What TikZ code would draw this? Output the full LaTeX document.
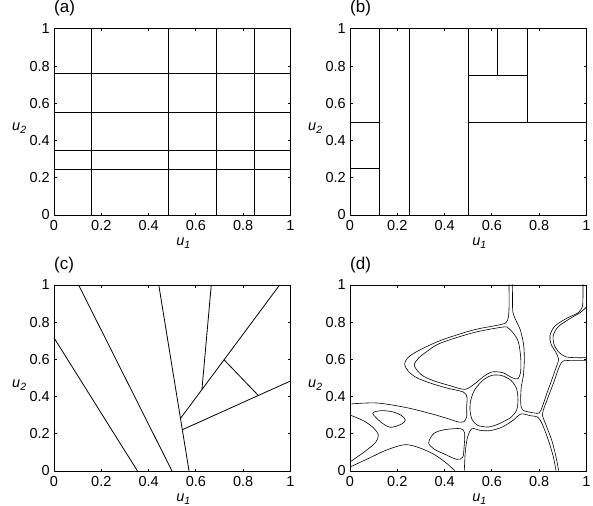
\documentclass[tikz,border=0pt]{standalone}
\usepackage{fontspec}
\setmainfont{Liberation Sans}
\begin{document}
\begin{tikzpicture}[
    x=1pt, y=-1pt,
    frame/.style={line width=1pt},
    part/.style={line width=0.8pt},
    cell/.style={line width=0.6pt},
    ticklab/.style={inner sep=0pt, font=\fontsize{14.5}{14.5}\selectfont},
    axlab/.style={inner sep=0pt, font=\fontsize{14.5}{14.5}\selectfont\itshape},
    panlab/.style={inner sep=0pt, anchor=base west, font=\fontsize{17}{17}\selectfont}
]
\useasboundingbox (0,0) rectangle (593,505);

\foreach \px/\py/\lab in {54/215/a, 350/215/b, 54/471/c, 350/471/d} {
  \begin{scope}[shift={(\px,\py)}, x=236.5pt, y=186pt]
    \draw[frame] (0,0) rectangle (1,1);
    \foreach \t in {0.2,0.4,0.6,0.8} {
      \draw[frame] (\t,0) -- ++(0,2.5pt) (\t,1) -- ++(0,-2.5pt)
                   (0,\t) -- ++(2.5pt,0) (1,\t) -- ++(-2.5pt,0);
    }
    \foreach \t [count=\k] in {0,0.2,0.4,0.6,0.8,1} {
      \node[ticklab, anchor=north, yshift=-5pt] (\lab-x\k) at (\t,0) {\t};
      \node[ticklab, anchor=east, xshift=-4pt] (\lab-y\k) at (0,\t) {\t};
    }
    \node[axlab, anchor=base, xshift=11pt, yshift=-30pt] (\lab-u1) at (0.5,0)
      {u\raisebox{-3pt}{\fontsize{10.5}{10.5}\selectfont 1}};
    \node[axlab, anchor=base west, xshift=-42pt, yshift=-9pt] (\lab-u2) at (0,0.5)
      {u\raisebox{-3pt}{\fontsize{10.5}{10.5}\selectfont 2}};
    \node[panlab, yshift=16pt] (\lab-title) at (0,1) {(\lab)};
  \end{scope}
}

\begin{scope}[shift={(54,215)}, x=236.5pt, y=186pt]
  \foreach \c in {0.16,0.484,0.686,0.847} \draw[part] (\c,0) -- (\c,1);
  \foreach \c in {0.244,0.347,0.551,0.759} \draw[part] (0,\c) -- (1,\c);
\end{scope}

\begin{scope}[shift={(350,215)}, x=236.5pt, y=186pt]
  \foreach \c in {0.125,0.25,0.5} \draw[part] (\c,0) -- (\c,1);
  \draw[part] (0,0.25) -- (0.125,0.25) (0,0.5) -- (0.125,0.5);
  \draw[part] (0.5,0.5) -- (1,0.5) (0.75,0.5) -- (0.75,1);
  \draw[part] (0.5,0.75) -- (0.75,0.75) (0.625,0.75) -- (0.625,1);
\end{scope}

\begin{scope}[shift={(54,471)}, x=236.5pt, y=186pt]
  \draw[part] (0,0.716) -- (0.353,0);
  \draw[part] (0.104,1) -- (0.499,0);
  \draw[part] (0.443,1) -- (0.571,0);
  \draw[part] (0.665,1) -- (0.6255,0.438);
  \draw[part] (0.954,1) -- (0.535,0.283);
  \draw[part] (0.719,0.598) -- (0.864,0.406);
  \draw[part] (0.5426,0.222) -- (1,0.484);
\end{scope}

\begin{scope}[shift={(290,250)}, x=0.3333pt, y=-0.3333pt]
  \clip (180,103) rectangle (888,662);
  \draw[cell] plot[smooth] coordinates {(180,462) (260,459) (350,473) (430,493)
    (480,508) (505,516) (522,515) (530,500) (530,470) (531,442) (520,426)
    (470,414) (420,399) (380,383) (355,364) (344,343) (352,325) (380,305)
    (450,272) (550,240) (635,223) (652,212) (657,180) (657,103)};
  \draw[cell] plot[smooth cycle] coordinates {(373,347) (385,325) (410,305)
    (450,280) (550,248) (640,231) (656,235) (672,252) (685,275) (692,320)
    (692,365) (684,386) (668,384) (638,368) (606,366) (580,380) (556,400)
    (525,418) (480,407) (430,392) (395,375)};
  \draw[cell] plot[smooth cycle] coordinates {(540,478) (543,448) (555,418)
    (580,390) (606,376) (636,377) (664,392) (680,417) (684,450) (680,480)
    (663,502) (630,520) (596,531) (563,526) (546,508)};
  \draw[cell] plot[smooth] coordinates {(668,103) (668,180) (676,207) (691,240)
    (701,285) (703,330) (700,378) (694,410) (692,455) (697,479) (722,487)
    (747,489) (757,470) (770,432) (787,385) (800,348) (806,328) (797,306)
    (783,282) (780,256) (795,228) (830,205) (865,188) (877,170) (879,140)
    (879,103)};
  \draw[cell] plot[smooth] coordinates {(888,172) (872,187) (838,207) (805,230)
    (790,256) (792,283) (806,306) (826,320) (855,323) (888,323)};
  \draw[cell] plot[smooth] coordinates {(888,332) (850,332) (820,333) (808,350)
    (792,395) (775,440) (760,480) (757,495) (768,525) (785,570) (798,620)
    (806,662)};
  \draw[cell] plot[smooth] coordinates {(523,662) (526,605) (533,560) (546,536)
    (570,541) (600,542) (635,532) (668,512) (693,492) (720,497) (744,502)
    (758,525) (775,570) (790,620) (798,662)};
  \draw[cell] plot[smooth] coordinates {(180,495) (220,512) (250,533) (265,555)
    (257,577) (228,602) (200,622) (180,636)};
  \draw[cell] plot[smooth] coordinates {(180,651) (230,628) (290,600) (345,584)
    (390,594) (435,615) (470,640) (494,662)};
  \draw[cell] plot[smooth cycle] coordinates {(248,490) (275,482) (310,486)
    (335,497) (346,510) (335,522) (302,532) (275,518)};
  \draw[cell] plot[smooth cycle] coordinates {(416,578) (432,550) (465,539)
    (512,536) (524,550) (522,595) (518,622) (500,628) (465,613) (432,597)};
\end{scope}
\end{tikzpicture}
\end{document}
